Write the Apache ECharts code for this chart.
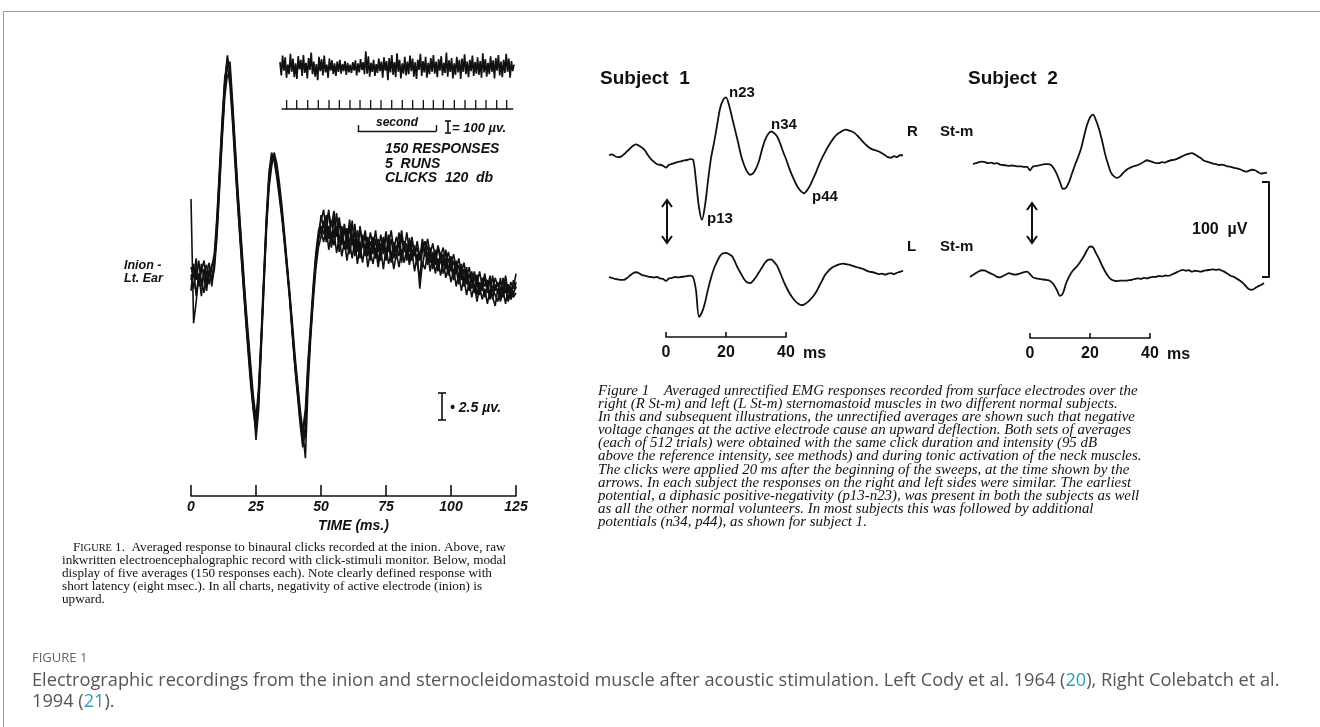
<!DOCTYPE html>
<html><head><meta charset="utf-8">
<script src="https://cdn.jsdelivr.net/npm/echarts@6/dist/echarts.min.js"></script>
<style>html,body{margin:0;padding:0;background:#fff}#c{width:1320px;height:727px}</style>
</head><body><div id="c"></div>
<script>
// ---------------- DATA ----------------
// Left panel (Cody et al. 1964): five averages, µV, sampled every 1 ms from 0 to 125 ms
const leftStart = 0, leftStep = 1;
const leftTickLabels = ['0','25','50','75','100','125'];
const leftA = [0.5,-0.8,1.2,-0.5,1.5,0.2,-1.0,1.0,0.0,2.0,
5.0,9.5,14.0,18.0,20.5,19.5,15.5,11.5,7.5,4.0,
0.5,-3.0,-6.0,-9.0,-11.5,-13.5,-10.5,-5.5,0.0,5.5,
9.5,11.5,11.2,9.8,8.0,6.0,3.5,1.0,-1.5,-4.5,
-7.5,-10.0,-12.5,-14.5,-12.5,-8.0,-4.5,-1.0,2.0,4.0,
5.0,4.2,6.0,3.8,5.5,4.0,6.2,3.5,5.0,2.8,
4.8,3.2,5.5,2.5,4.6,3.0,4.2,2.2,3.8,2.5,
4.0,2.0,3.5,1.8,3.8,2.4,4.2,2.0,3.5,2.6,
4.4,2.2,3.6,1.8,3.9,2.5,3.2,1.5,0.2,2.8,
3.6,1.8,3.0,1.2,2.8,1.0,2.5,1.5,2.8,0.8,
2.2,0.5,1.8,0.2,1.5,-0.2,1.2,-0.8,0.8,-1.0,
0.5,-1.2,0.2,-0.6,0.0,-1.5,0.4,-1.0,-0.2,-1.6,
0.2,-1.2,-0.4,-1.8,0.0,-0.8];
const leftB = [-1.0,1.5,0.0,1.8,-0.6,0.8,1.4,-0.4,1.2,2.5,
6.0,10.5,15.0,18.8,19.8,18.0,14.5,10.5,6.8,3.2,
-0.2,-3.6,-6.8,-9.8,-12.2,-14.0,-11.5,-6.0,-0.5,5.0,
9.0,11.0,11.6,10.2,8.4,6.2,3.8,1.2,-1.8,-5.0,
-8.2,-10.8,-13.4,-15.5,-13.5,-9.0,-5.0,-1.5,1.5,3.5,
6.0,4.8,5.2,6.5,3.5,5.8,4.0,5.5,3.2,4.8,
2.8,5.0,3.2,4.5,2.6,5.0,3.0,4.2,2.2,3.6,
2.4,3.8,1.6,3.4,2.8,4.5,2.6,3.8,2.0,3.2,
2.2,4.0,2.6,3.4,1.8,3.6,2.4,3.0,1.8,3.4,
2.2,3.2,1.6,2.6,1.4,3.0,1.8,2.4,1.0,2.0,
0.8,1.8,0.6,1.4,0.0,1.0,-0.4,0.6,-0.8,0.4,
-1.4,-0.2,-1.0,0.4,-1.2,0.0,-1.8,-0.4,-1.2,0.2,
-1.4,-0.2,-1.8,-0.6,-1.4,-0.2];
const leftC = [7.5,-4.0,-2.0,0.5,-1.5,1.0,-0.5,0.8,-0.2,1.0,
4.0,8.5,13.0,17.0,19.0,18.8,16.0,12.0,8.0,4.5,
1.0,-2.5,-5.5,-8.5,-11.5,-14.8,-12.0,-6.5,-1.0,4.5,
8.5,10.5,11.8,10.8,9.0,6.8,4.2,1.5,-1.2,-4.0,
-7.0,-9.5,-12.0,-14.0,-16.5,-10.0,-5.5,-2.0,1.0,3.0,
4.0,5.5,3.5,5.0,3.0,4.5,2.5,4.0,2.2,3.6,
1.8,3.5,2.0,3.8,1.5,3.2,1.6,3.4,1.2,2.6,
1.5,3.0,1.2,2.8,1.0,3.0,1.5,2.6,1.0,2.5,
1.2,2.8,1.6,3.0,1.4,2.6,0.8,2.4,-0.8,1.6,
1.0,2.6,0.8,2.2,0.6,2.0,0.4,1.8,0.2,1.2,
-0.2,1.0,-0.6,0.6,-1.0,0.2,-1.4,-0.2,-1.6,-0.4,
-2.0,-0.6,-1.8,-0.8,-2.2,-1.0,-1.6,-2.4,-0.8,-2.0,
-1.0,-2.2,-0.6,-1.8,-1.2,-0.6];
const leftD = [0.0,1.0,-1.5,0.6,0.0,-1.2,0.6,1.6,-0.6,1.5,
4.5,9.0,13.5,17.5,20.0,20.2,16.5,12.5,8.5,5.0,
1.5,-2.0,-5.0,-8.0,-10.8,-12.8,-10.0,-5.0,0.5,6.0,
10.0,11.8,11.0,9.5,7.6,5.6,3.2,0.6,-2.0,-5.2,
-8.0,-10.5,-13.0,-13.8,-12.0,-7.5,-4.0,-0.5,2.5,4.5,
5.5,6.5,4.5,6.2,5.0,6.4,4.4,5.8,3.8,5.2,
3.4,5.6,3.6,5.2,3.0,4.8,3.4,4.6,2.8,4.4,
3.0,4.6,2.6,4.2,2.4,4.0,3.2,4.6,2.8,4.0,
3.0,4.6,2.8,4.4,2.6,4.0,2.2,3.6,2.0,3.8,
2.6,3.8,2.4,3.4,2.0,3.2,2.2,3.0,1.6,2.6,
1.4,2.4,1.0,2.0,0.6,1.6,0.2,1.2,-0.2,0.8,
-0.4,0.8,-0.6,0.6,-0.8,0.4,-1.0,0.2,-0.6,-0.2,
-1.0,0.4,-1.2,-0.2,-0.8,0.6];
const leftE = [1.2,0.2,2.0,-0.6,0.8,1.8,0.0,0.4,1.4,1.8,
5.5,10.0,14.5,18.5,20.8,19.0,15.0,11.0,7.0,3.5,
0.0,-3.2,-6.4,-9.4,-12.0,-13.2,-10.8,-5.8,-0.2,5.2,
9.2,11.2,11.4,10.0,8.2,6.0,3.6,1.0,-1.6,-4.8,
-7.8,-10.2,-12.8,-15.0,-14.5,-8.5,-4.8,-1.2,1.8,3.8,
4.6,3.5,4.8,2.8,4.4,3.2,5.0,2.6,4.2,3.0,
4.4,2.4,4.0,2.2,3.8,2.0,3.6,2.4,4.0,1.8,
3.4,2.0,3.8,2.4,4.0,1.8,3.4,1.6,3.0,2.0,
3.6,1.6,3.2,2.2,3.4,1.8,2.8,1.4,2.6,1.2,
2.8,1.4,2.6,1.0,2.4,0.8,2.0,0.6,1.8,0.4,
1.4,0.0,1.0,-0.4,0.8,-0.6,0.4,-1.0,0.2,-1.2,
-0.2,-1.4,-0.4,-1.6,-0.6,-1.8,-0.8,-1.4,-2.0,-0.6,
-1.6,-0.8,-2.0,-1.0,-1.6,-1.2];

// Raw inkwritten EEG (µV), every 1/60 s from 0 to 3 s
const eegStart = 0, eegStep = 1/60;
const eegRaw = [40,-70,95,-30,80,-90,20,-60,110,-40,70,-85,30,-100,90,-20,60,-75,100,-50,
35,-95,75,-25,120,-60,45,-80,25,-110,85,-35,65,-70,95,-45,20,-90,70,-30,
55,-60,30,-75,45,-40,60,-55,25,-35,50,-65,35,-45,20,-50,40,-30,55,-70,
30,-45,65,-25,40,-60,130,-55,90,-80,35,-40,60,-75,25,-50,70,-35,45,-90,
80,-30,50,-110,75,-45,100,-65,40,-85,115,-40,60,-95,30,-55,85,-70,45,-60,
95,-35,70,-80,40,-100,60,-25,110,-75,50,-45,85,-90,35,-60,75,-40,100,-55,
45,-85,65,-30,90,-70,35,-50,120,-80,55,-40,75,-95,30,-65,85,-45,60,-100,
70,-40,105,-60,45,-85,60,-35,95,-75,40,-55,80,-65,50,-90,115,-45,65,-80,
35,-60,90,-40,55,-95,75,-30,100,-70,45,-85,60,-50,110,-40,70,-90,50,-35,
20];
// Click-stimuli monitor: click times (s)
const clickTimes = [0.085,0.214,0.355,0.491,0.628,0.761,0.897,1.026,1.162,1.295,1.432,
1.568,1.701,1.838,1.966,2.094,2.235,2.372,2.509,2.641,2.778,2.906];
const clickStart = 0.02, clickEnd = 2.99;

// Right panel (Colebatch et al. 1994): µV, every 1 ms, time re click (ms)
const s1Start = -19, s2RStart = -19, s2LStart = -20, rStep = 1;
const s1R = [5,6,4,3,3.5,6,9,12,15,16.5,
15,13,10,5,1,-2,-4.5,-5,-6,-8,
-5,-4,-3,-2,-1.5,-0.5,0,1,0.5,-22,
-50,-63,-48,-22,2,18,36,54,63,66,
58,45,32,19,5,-5,-12,-15.5,-14,-9,
-1,11,21,27,30,28.5,25,18,9,1,
-8,-16,-23,-29,-33,-35,-32,-27,-20,-13,
-5,2,8,14,19,23.5,27,29,31,32,
31,30,28,25,21.5,18,15,12.5,11,10,
9,7,5,3,2.5,4,3,5,5];
const s1L = [0,-1,-2,-2.5,-3,-3,-1,1.5,4,5,
4,2,1.5,0.5,0,-0.5,0,-1.5,-2,-4,
-1.5,-1,0,-0.5,0,0.5,1,1.5,0,-14,
-42,-37,-27,-13,-1,9,16,22,25,25.5,
24,22,16,9,3.5,-2,-5.5,-6.5,-4,0,
5,10,15,18,18.5,16,12,5,-3,-10,
-16,-21,-25,-28,-29.5,-29,-27,-24,-20.5,-16,
-10,-4,2,6,9,11,12.5,13.5,14,13.5,
13,12,11,10,9,8,6.5,5.5,5,4,
3,3.5,2.5,3.5,4,3,4.5,5.5,6.5];
const s2R = [1,2,3,3.5,3,2,2.5,1.5,2,0.5,
0,-0.5,-1,-0.5,-1,-1.5,-1.5,-2,-2,-5.5,
-1.5,-1,-0.5,0.5,1,1,0,-4,-10,-18,
-25,-24,-18,-9,0,8,17,30,42,50,
53,47,38,26,12,1,-8,-12,-13.5,-12,
-8.5,-5.5,-3.5,-2,-1,0,1.5,3.5,5,4,
3,2,2,3,2.5,4,5,5.5,6.5,8,
9.5,11,12,12.5,11,9,7,4.5,3.5,2.5,
1.5,1,0,0.5,-0.5,-1.5,-2,-3,-3.5,-4.5,
-6,-7,-6,-5,-5.5,-7.5,-9,-8.5,-8];
const s2L = [-2,0,2,4,5,4.5,3,1.5,0,-2,
-2.5,-1,0.5,2,1,0.5,1,2,3,3.5,
1,-2.5,-3.5,-4,-4.5,-5,-5.5,-7,-10.5,-16,
-22,-19,-9,-2,3.5,7,10.5,15,20,26,
30,29,23,17,10,4,-1,-4.5,-6,-6.5,
-6,-6,-6,-5.5,-5,-4,-3.5,-4,-3,-3.5,
-2.5,-2,-2,-1,-1.5,-0.5,-1,0,1.5,3,
4.5,5.5,4.5,5,3.5,4.5,4,3.5,4.5,5,
5.5,6,5.5,6,4.5,3,1,-1,-2,-4,
-6,-8.5,-12,-15,-15.5,-14,-12,-10.5,-8.5];
const rightTickLabels = ['0','20','40'];

// ---------------- BUILD ----------------
const seq = (start, n, step) => Array.from({length:n}, (_, i) => +(start + i*step).toFixed(4));
const pair = (start, step, vs) => { const ts = seq(start, vs.length, step); return vs.map((v,i)=>[ts[i], v]); };
const clickData = [[clickStart,0]];
clickTimes.forEach(c => { clickData.push([c,0],[c,1],[c,0]); });
clickData.push([clickEnd,0]);

const INK = '#111';
const LF = "'Liberation Sans', Arial, sans-serif";
const hx = (g,min,max) => ({gridIndex:g, type:'value', min, max, show:false});
const line = (xi, data, w, smooth) => ({type:'line', xAxisIndex:xi, yAxisIndex:xi, data, symbol:'none', smooth: smooth||false,
  lineStyle:{color:INK, width:w}, silent:true, animation:false, clip:false});

const grids = [
 {left:191, top:10, width:325, height:486},
 {left:280, top:49, width:234, height:36},
 {left:280, top:100, width:234, height:9},
 {left:358, top:124, width:78, height:7},
 {left:606, top:65, width:300, height:190},
 {left:606, top:182, width:300, height:190},
 {left:970, top:70, width:300, height:190},
 {left:970, top:180, width:300, height:190},
 {left:666, top:330, width:120, height:7},
 {left:1030, top:331, width:120, height:7},
 {left:1262, top:182, width:7, height:95}
];

const timeBarAxis = (g) => ({gridIndex:g, type:'value', min:0, max:40, interval:20,
  axisLine:{onZero:false, lineStyle:{color:INK, width:1.6}},
  axisTick:{inside:true, length:5, lineStyle:{color:INK, width:1.6}},
  axisLabel:{margin:8, color:INK, fontFamily:LF, fontWeight:'bold', fontSize:16,
    formatter:(v)=> rightTickLabels[Math.round(v/20)] },
  splitLine:{show:false},
  name:'ms', nameLocation:'end', nameGap:17,
  nameTextStyle:{color:INK, fontFamily:LF, fontWeight:'bold', fontSize:16, verticalAlign:'top', padding:[9,0,0,0]}
});

const xAxes = [
 {gridIndex:0, type:'value', min:0, max:125, interval:25,
  axisLine:{onZero:false, lineStyle:{color:INK, width:1.6}},
  axisTick:{inside:true, length:11, lineStyle:{color:INK, width:1.6}},
  axisLabel:{margin:4, color:INK, fontFamily:LF, fontStyle:'italic', fontWeight:'bold', fontSize:14,
    formatter:(v)=> leftTickLabels[Math.round(v/25)] },
  splitLine:{show:false},
  name:'TIME (ms.)', nameLocation:'middle', nameGap:22,
  nameTextStyle:{color:INK, fontFamily:LF, fontStyle:'italic', fontWeight:'bold', fontSize:14}},
 hx(1,0,3), hx(2,0,3),
 {gridIndex:3, type:'value', min:0, max:1, interval:1,
  axisLine:{onZero:false, lineStyle:{color:INK, width:1.4}},
  axisTick:{inside:true, length:6, lineStyle:{color:INK, width:1.4}},
  axisLabel:{show:false}, splitLine:{show:false}},
 hx(4,-20,80), hx(5,-20,80), hx(6,-20,80), hx(7,-20,80),
 timeBarAxis(8), timeBarAxis(9),
 hx(10,0,1)
];
const yAxes = [
 hx(0,-20,25), hx(1,-150,150), hx(2,0,1), hx(3,0,1),
 hx(4,-100,100), hx(5,-100,100), hx(6,-100,100), hx(7,-100,100),
 hx(8,0,1), hx(9,0,1),
 {gridIndex:10, type:'value', min:0, max:100, interval:100, position:'right',
  axisLine:{show:true, onZero:false, lineStyle:{color:INK, width:2}},
  axisTick:{show:true, inside:true, length:7, lineStyle:{color:INK, width:2}},
  axisLabel:{show:false}, splitLine:{show:false}}
];

const series = [
 ...[leftA,leftB,leftC,leftD,leftE].map(a => line(0, pair(leftStart, leftStep, a), 1.6)),
 line(1, pair(eegStart, eegStep, eegRaw), 1.7),
 line(2, clickData, 1.3),
 line(4, pair(s1Start, rStep, s1R), 1.8, 0.3),
 line(5, pair(s1Start, rStep, s1L), 1.8, 0.3),
 line(6, pair(s2RStart, rStep, s2R), 1.8, 0.3),
 line(7, pair(s2LStart, rStep, s2L), 1.8, 0.3)
];

// ---------------- TEXT / ANNOTATIONS ----------------
const T = (x, y, text, font, extra) => Object.assign({type:'text', silent:true,
  style:Object.assign({x, y, text, font, fill:INK, align:'left', verticalAlign:'middle', textAlign:'left', textVerticalAlign:'middle'}, extra||{})});
const L = (x1,y1,x2,y2,w) => ({type:'line', silent:true, shape:{x1,y1,x2,y2}, style:{stroke:INK, lineWidth:w||1.5}});
const P = (pts,w) => ({type:'polyline', silent:true, shape:{points:pts}, style:{stroke:INK, fill:null, lineWidth:w||1.8}});
const arrow = (x,y1,y2) => [L(x,y1,x,y2,2), P([[x-5,y1+7],[x,y1],[x+5,y1+7]],2), P([[x-5,y2-7],[x,y2],[x+5,y2-7]],2)];
const ibeam = (x,y1,y2,c) => [L(x,y1,x,y2,1.6), L(x-c,y1,x+c,y1,1.6), L(x-c,y2,x+c,y2,1.6)];

const fLeft = (s) => `italic bold ${s}px ${LF}`;
const fB = (s) => `bold ${s}px ${LF}`;
const SER = "'Liberation Serif', 'Times New Roman', serif";
const fCapL = `13.2px ${SER}`;
const fCapR = `italic 14.9px ${SER}`;
const OS = "'Open Sans', 'Noto Sans', sans-serif";

const capLeft = [
 '{f|F}{s|IGURE} 1.  Averaged response to binaural clicks recorded at the inion. Above, raw',
 'inkwritten electroencephalographic record with click-stimuli monitor. Below, modal',
 'display of five averages (150 responses each). Note clearly defined response with',
 'short latency (eight msec.). In all charts, negativity of active electrode (inion) is',
 'upward.'
];
const capRight = [
 'Figure 1    Averaged unrectified EMG responses recorded from surface electrodes over the',
 'right (R St-m) and left (L St-m) sternomastoid muscles in two different normal subjects.',
 'In this and subsequent illustrations, the unrectified averages are shown such that negative',
 'voltage changes at the active electrode cause an upward deflection. Both sets of averages',
 '(each of 512 trials) were obtained with the same click duration and intensity (95 dB',
 'above the reference intensity, see methods) and during tonic activation of the neck muscles.',
 'The clicks were applied 20 ms after the beginning of the sweeps, at the time shown by the',
 'arrows. In each subject the responses on the right and left sides were similar. The earliest',
 'potential, a diphasic positive-negativity (p13-n23), was present in both the subjects as well',
 'as all the other normal volunteers. In most subjects this was followed by additional',
 'potentials (n34, p44), as shown for subject 1.'
];

const elements = [
 {type:'rect', silent:true, z:-10, shape:{x:3.5, y:11.5, width:1340, height:740}, style:{fill:'transparent', stroke:'#9a9a9a', lineWidth:1}},
 // left panel annotations
 T(124, 266, 'Inion -', fLeft(12.5)),
 T(124, 279, 'Lt. Ear', fLeft(12.5)),
 T(397, 123, 'second', fLeft(12), {align:'center', textAlign:'center'}),
 ...ibeam(448, 121, 133, 3),
 T(452, 128, '= 100 µv.', fLeft(13)),
 T(385, 149, '150 RESPONSES', fLeft(14)),
 T(385, 164, '5  RUNS', fLeft(14)),
 T(385, 178, 'CLICKS  120  db', fLeft(14)),
 ...ibeam(442, 393, 420, 4),
 T(450, 408, '• 2.5 µv.', fLeft(14)),
 // right panel annotations
 T(600, 79, 'Subject  1', fB(19)),
 T(968, 79, 'Subject  2', fB(19)),
 T(729, 93, 'n23', fB(15)),
 T(771, 125, 'n34', fB(15)),
 T(707, 219, 'p13', fB(15)),
 T(812, 197, 'p44', fB(15)),
 T(907, 132, 'R', fB(15)), T(940, 132, 'St-m', fB(15)),
 T(907, 247, 'L', fB(15)), T(940, 247, 'St-m', fB(15)),
 T(1192, 230, '100  µV', fB(16)),
 ...arrow(667, 200, 243),
 ...arrow(1032, 203, 243),
 // captions
 ...capLeft.map((s,i) => T(i===0?73:62, 548 + i*13, s, fCapL, {rich:{f:{font:fCapL, fill:INK}, s:{font:`10.3px ${SER}`, fill:INK}}})),
 ...capRight.map((s,i) => T(598, 391 + i*13.1, s, fCapR)),
 T(32, 658, 'FIGURE 1', `13px ${OS}`, {fill:'#666'}),
 T(32, 681, 'Electrographic recordings from the inion and sternocleidomastoid muscle after acoustic stimulation. Left Cody et al. 1964 ({n|20}), Right Colebatch et al.',
   `18.2px ${OS}`, {fill:'#555', rich:{n:{font:`18.2px ${OS}`, fill:'#2a9fb8'}}}),
 T(32, 702, '1994 ({n|21}).', `18.2px ${OS}`, {fill:'#555', rich:{n:{font:`18.2px ${OS}`, fill:'#2a9fb8'}}})
];

const chart = echarts.init(document.getElementById('c'), null, {renderer:'canvas'});
chart.setOption({
  backgroundColor:'#fff',
  animation:false,
  grid: grids.map(g => Object.assign({containLabel:false, outerBoundsMode:'none'}, g)),
  xAxis: xAxes,
  yAxis: yAxes,
  series,
  graphic:{elements}
});
</script></body></html>
